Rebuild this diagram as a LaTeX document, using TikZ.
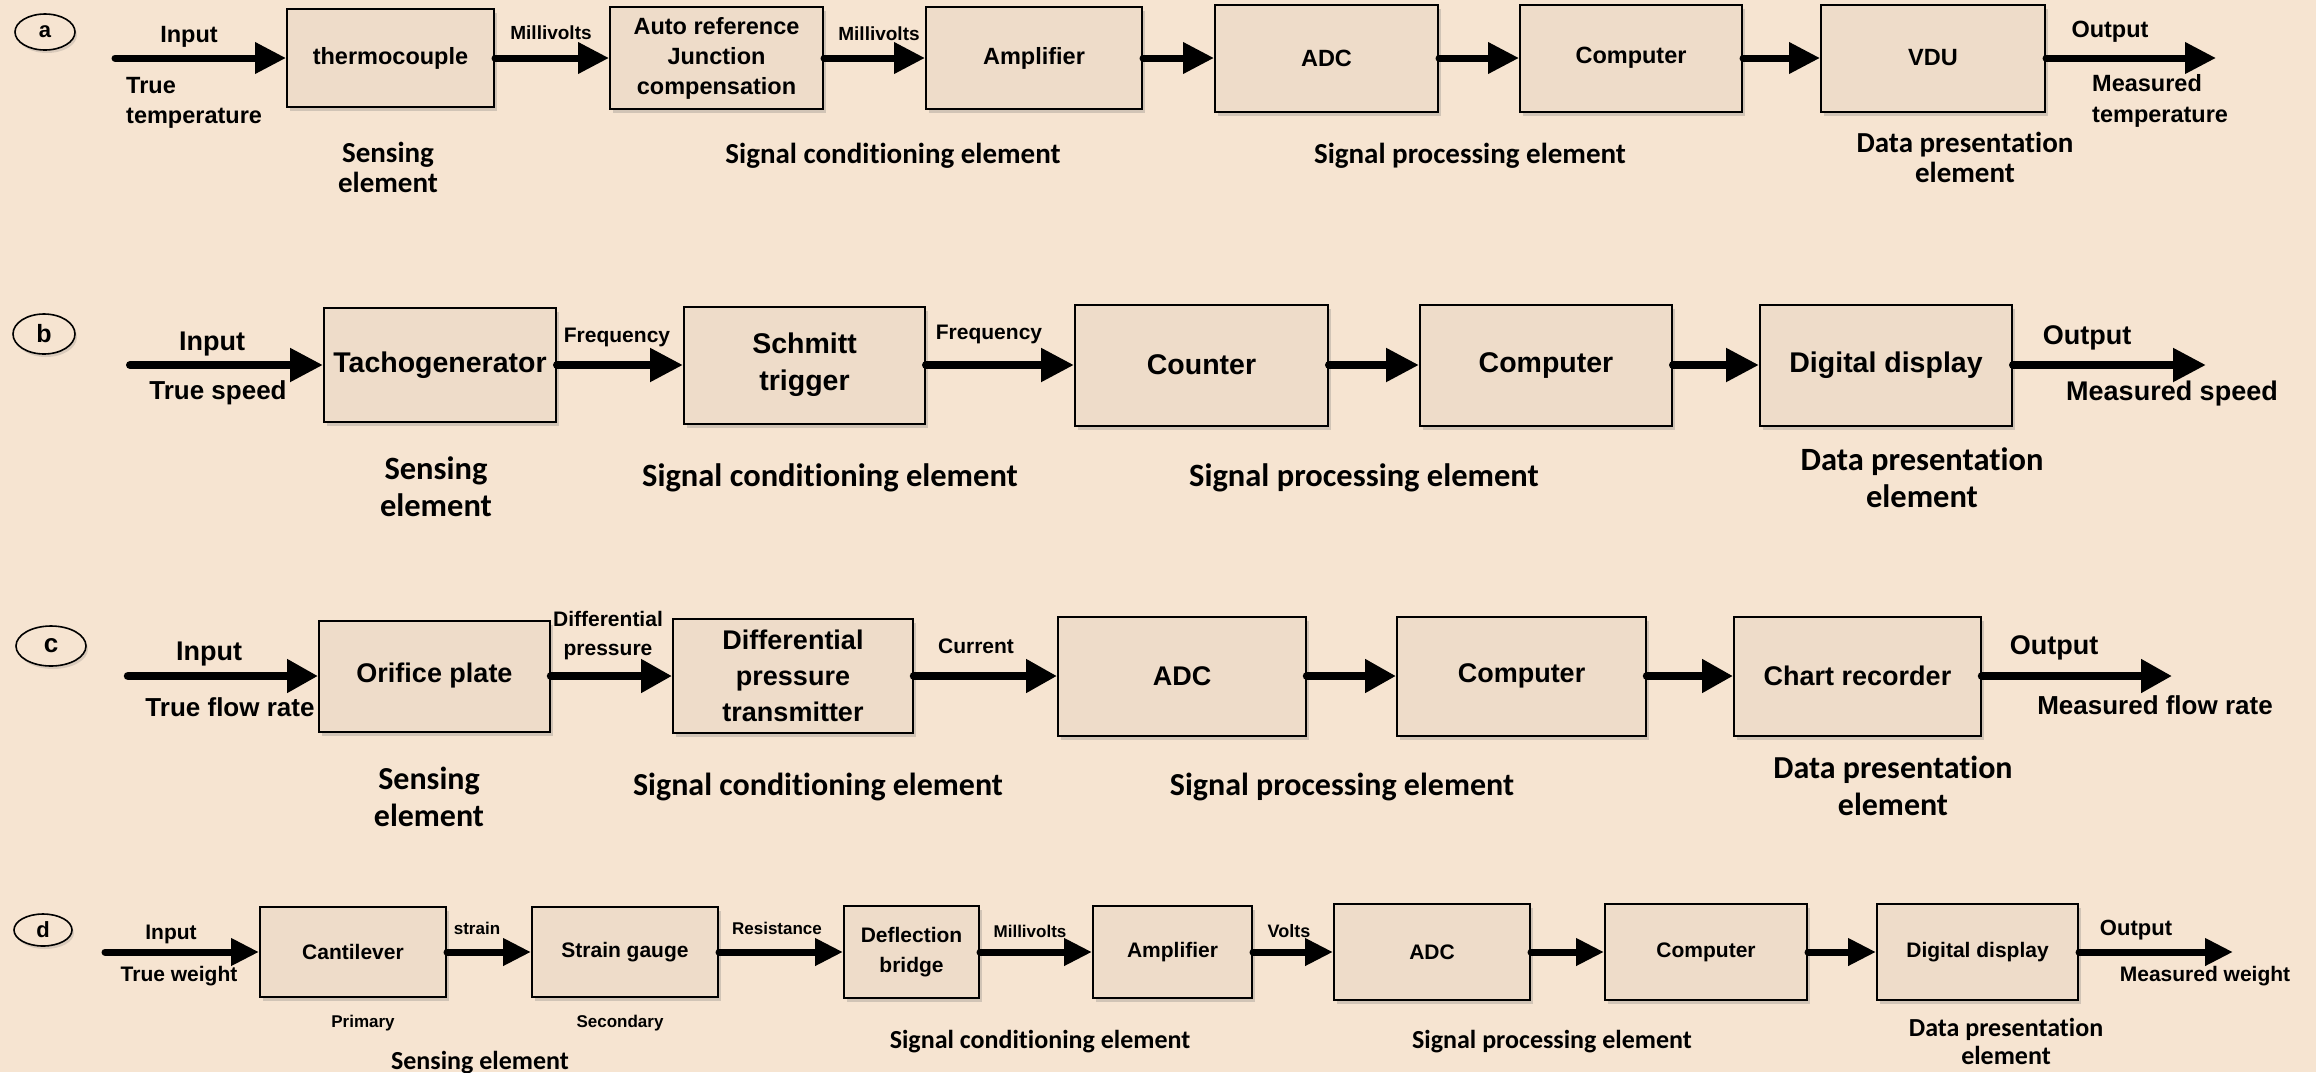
\documentclass[tikz,border=0pt]{standalone}
\usepackage{fontspec}
\setmainfont{Liberation Sans}
\newfontfamily\arialf{Liberation Sans}
\newfontfamily\calf{Carlito}[Ligatures={NoCommon}]
\usetikzlibrary{arrows.meta,shadows,shapes.geometric}
\definecolor{bgc}{HTML}{F6E4D1}
\definecolor{boxc}{HTML}{EEDCC9}
\newcommand\fsz[2]{\fontsize{#1}{#2}\selectfont}
\begin{document}
\begin{tikzpicture}[x=1pt,y=-1pt,
  blk/.style={draw=black, line width=2pt, fill=boxc, inner sep=0pt, align=center,
    drop shadow={shadow xshift=3pt, shadow yshift=-4pt, opacity=0.25, fill=black!60}},
  lett/.style={draw=black, ellipse, line width=1.6pt, inner sep=0pt, fill=bgc,
    drop shadow={shadow xshift=2pt, shadow yshift=-3pt, opacity=0.2, fill=black!60}},
  ta/.style={font=\arialf\bfseries\fsz{23.5}{30}, align=center},
  tb/.style={font=\arialf\bfseries\fsz{28.5}{37}, align=center},
  tc/.style={font=\arialf\bfseries\fsz{27}{36}, align=center},
  td/.style={font=\arialf\bfseries\fsz{21}{30}, align=center},
  sa/.style={font=\calf\bfseries\fsz{29}{30}, align=center},
  sb/.style={font=\calf\bfseries\fsz{32.5}{37}, align=center},
  sd/.style={font=\calf\bfseries\fsz{26}{28}, align=center},
  lft/.style={anchor=west, align=left, inner sep=0pt},
  arrA/.style={line width=7pt, line cap=round, -{Triangle[length=31pt,width=30pt]}},
  arrB/.style={line width=8pt, line cap=round, -{Triangle[length=33pt,width=32pt]}},
  arrC/.style={line width=8.5pt, line cap=round, -{Triangle[length=31pt,width=32pt]}},
  arrD/.style={line width=7pt, line cap=round, -{Triangle[length=28pt,width=26pt]}}
]
\useasboundingbox (0,0) rectangle (2316,1072);
\fill[bgc] (0,0) rectangle (2316,1072);

% ---------------- Row a ----------------
\node[lett, minimum width=60pt, minimum height=36pt, font=\arialf\bfseries\fsz{22}{22}] (La) at (45,32) {a};
\node[blk,ta,minimum width=207pt,minimum height=98pt] (a1) at (390.5,58) {thermocouple};
\node[blk,ta,minimum width=213pt,minimum height=102pt] (a2) at (716.5,58) {Auto reference\\Junction\\compensation};
\node[blk,ta,minimum width=216pt,minimum height=102pt] (a3) at (1034,58) {Amplifier};
\node[blk,ta,minimum width=223pt,minimum height=107pt] (a4) at (1326.5,58) {ADC};
\node[blk,ta,minimum width=222pt,minimum height=107pt] (a5) at (1631,58) {Computer};
\node[blk,ta,minimum width=224pt,minimum height=107pt] (a6) at (1933,58) {VDU};
\coordinate (ain) at (115,58);
\coordinate (aout) at (2216,58);
\draw[arrA] (ain) -- (a1.west);
\draw[arrA] (a1.east) -- (a2.west);
\draw[arrA] (a2.east) -- (a3.west);
\draw[arrA] (a3.east) -- (a4.west);
\draw[arrA] (a4.east) -- (a5.west);
\draw[arrA] (a5.east) -- (a6.west);
\draw[arrA] (a6.east) -- (aout);
\node[ta] (aInput) at (189,37) {Input};
\node[ta,lft,font=\arialf\bfseries\fsz{23.5}{30}] (aTrue) at (126,103) {True\\temperature};
\node[font=\arialf\bfseries\fsz{19}{20}] (aMv1) at (551,33) {Millivolts};
\node[font=\arialf\bfseries\fsz{19}{20}] (aMv2) at (879,34) {Millivolts};
\node[ta] (aOutput) at (2110,32) {Output};
\node[ta,lft,font=\arialf\bfseries\fsz{23.5}{31}] (aMeas) at (2092,101) {Measured\\temperature};
\node[sa] (aS1) at (388,167) {Sensing\\element};
\node[sa] (aS2) at (893,156) {Signal conditioning element};
\node[sa] (aS3) at (1470,156) {Signal processing element};
\node[sa] (aS4) at (1965,157) {Data presentation\\element};

% ---------------- Row b ----------------
\node[lett, minimum width=62pt, minimum height=40pt, font=\arialf\bfseries\fsz{25}{25}] (Lb) at (44,334) {b};
\node[blk,tb,minimum width=232pt,minimum height=114pt] (b1) at (440,365) {Tachogenerator};
\node[blk,tb,minimum width=241pt,minimum height=117pt] (b2) at (804.5,365) {Schmitt\\trigger};
\node[blk,tb,minimum width=253pt,minimum height=121pt] (b3) at (1201.5,365) {Counter};
\node[blk,tb,minimum width=252pt,minimum height=121pt] (b4) at (1546,365) {Computer};
\node[blk,tb,minimum width=252pt,minimum height=121pt] (b5) at (1886,365) {Digital display};
\coordinate (bin) at (130,365);
\coordinate (bout) at (2206,365);
\draw[arrB] (bin) -- (b1.west);
\draw[arrB] (b1.east) -- (b2.west);
\draw[arrB] (b2.east) -- (b3.west);
\draw[arrB] (b3.east) -- (b4.west);
\draw[arrB] (b4.east) -- (b5.west);
\draw[arrB] (b5.east) -- (bout);
\node[font=\arialf\bfseries\fsz{27}{30}] (bInput) at (212,344) {Input};
\node[font=\arialf\bfseries\fsz{26}{30}] (bTrue) at (218,393) {True speed};
\node[font=\arialf\bfseries\fsz{21}{24}] (bF1) at (617,337) {Frequency};
\node[font=\arialf\bfseries\fsz{21}{24}] (bF2) at (989,334) {Frequency};
\node[font=\arialf\bfseries\fsz{27}{30}] (bOutput) at (2087,338) {Output};
\node[font=\arialf\bfseries\fsz{27}{30}] (bMeas) at (2172,394) {Measured speed};
\node[sb] (bS1) at (436,487) {Sensing\\element};
\node[sb] (bS2) at (830,478) {Signal conditioning element};
\node[sb] (bS3) at (1364,478) {Signal processing element};
\node[sb] (bS4) at (1922,478) {Data presentation\\element};

% ---------------- Row c ----------------
\node[lett, minimum width=70pt, minimum height=40pt, font=\arialf\bfseries\fsz{26}{26}] (Lc) at (51,646) {c};
\node[blk,tc,minimum width=231pt,minimum height=111pt] (c1) at (434.5,676) {Orifice plate};
\node[blk,tc,minimum width=240pt,minimum height=114pt] (c2) at (793,676) {Differential\\pressure\\transmitter};
\node[blk,tc,minimum width=248pt,minimum height=119pt] (c3) at (1182,676) {ADC};
\node[blk,tc,minimum width=249pt,minimum height=119pt] (c4) at (1521.5,676) {Computer};
\node[blk,tc,minimum width=247pt,minimum height=119pt] (c5) at (1857.5,676) {Chart recorder};
\coordinate (cin) at (128,676);
\coordinate (cout) at (2172,676);
\draw[arrC] (cin) -- (c1.west);
\draw[arrC] (c1.east) -- (c2.west);
\draw[arrC] (c2.east) -- (c3.west);
\draw[arrC] (c3.east) -- (c4.west);
\draw[arrC] (c4.east) -- (c5.west);
\draw[arrC] (c5.east) -- (cout);
\node[font=\arialf\bfseries\fsz{27}{30}] (cInput) at (209,654) {Input};
\node[font=\arialf\bfseries\fsz{26}{30}] (cTrue) at (230,707) {True flow rate};
\node[font=\arialf\bfseries\fsz{21}{29}, align=center] (cDp) at (608,636) {Differential\\pressure};
\node[font=\arialf\bfseries\fsz{21}{24}] (cCur) at (976,646) {Current};
\node[font=\arialf\bfseries\fsz{27}{30}] (cOutput) at (2054,648) {Output};
\node[font=\arialf\bfseries\fsz{26}{30}] (cMeas) at (2155,705) {Measured flow rate};
\node[sb,font=\calf\bfseries\fsz{32}{37}] (cS1) at (429,797) {Sensing\\element};
\node[sb,font=\calf\bfseries\fsz{32}{37}] (cS2) at (818,787) {Signal conditioning element};
\node[sb,font=\calf\bfseries\fsz{32}{37}] (cS3) at (1342,787) {Signal processing element};
\node[sb,font=\calf\bfseries\fsz{32}{37}] (cS4) at (1893,786) {Data presentation\\element};

% ---------------- Row d ----------------
\node[lett, minimum width=58pt, minimum height=32pt, font=\arialf\bfseries\fsz{22}{22}] (Ld) at (43,930) {d};
\node[blk,td,minimum width=186pt,minimum height=90pt] (d1) at (353,952) {Cantilever};
\node[blk,td,minimum width=186pt,minimum height=90pt] (d2) at (625,952) {Strain gauge};
\node[blk,td,minimum width=135pt,minimum height=92pt] (d3) at (911.5,952) {Deflection\\bridge};
\node[blk,td,minimum width=159pt,minimum height=92pt] (d4) at (1172.5,952) {Amplifier};
\node[blk,td,minimum width=196pt,minimum height=96pt] (d5) at (1432,952) {ADC};
\node[blk,td,minimum width=202pt,minimum height=96pt] (d6) at (1706,952) {Computer};
\node[blk,td,minimum width=201pt,minimum height=96pt] (d7) at (1977.5,952) {Digital display};
\coordinate (din) at (105,952);
\coordinate (dout) at (2233,952);
\draw[arrD] (din) -- (d1.west);
\draw[arrD] (d1.east) -- (d2.west);
\draw[arrD] (d2.east) -- (d3.west);
\draw[arrD] (d3.east) -- (d4.west);
\draw[arrD] (d4.east) -- (d5.west);
\draw[arrD] (d5.east) -- (d6.west);
\draw[arrD] (d6.east) -- (d7.west);
\draw[arrD] (d7.east) -- (dout);
\node[font=\arialf\bfseries\fsz{21}{24}] (dInput) at (171,934) {Input};
\node[font=\arialf\bfseries\fsz{21}{24}] (dTrue) at (179,976) {True weight};
\node[font=\arialf\bfseries\fsz{17}{20}] (dStr) at (477,928) {strain};
\node[font=\arialf\bfseries\fsz{17}{20}] (dRes) at (777,928) {Resistance};
\node[font=\arialf\bfseries\fsz{17}{20}] (dMv) at (1030,931) {Millivolts};
\node[font=\arialf\bfseries\fsz{18}{20}] (dV) at (1289,931) {Volts};
\node[font=\arialf\bfseries\fsz{22}{24}] (dOutput) at (2136,930) {Output};
\node[font=\arialf\bfseries\fsz{21}{24}] (dMeas) at (2205,976) {Measured weight};
\node[font=\arialf\bfseries\fsz{17}{20}] (dPrim) at (363,1023) {Primary};
\node[font=\arialf\bfseries\fsz{17}{20}] (dSec) at (620,1023) {Secondary};
\node[sd] (dS1) at (480,1063) {Sensing element};
\node[sd] (dS2) at (1040,1042) {Signal conditioning element};
\node[sd] (dS3) at (1552,1042) {Signal processing element};
\node[sd] (dS4) at (2006,1041) {Data presentation\\element};
\end{tikzpicture}
\end{document}
